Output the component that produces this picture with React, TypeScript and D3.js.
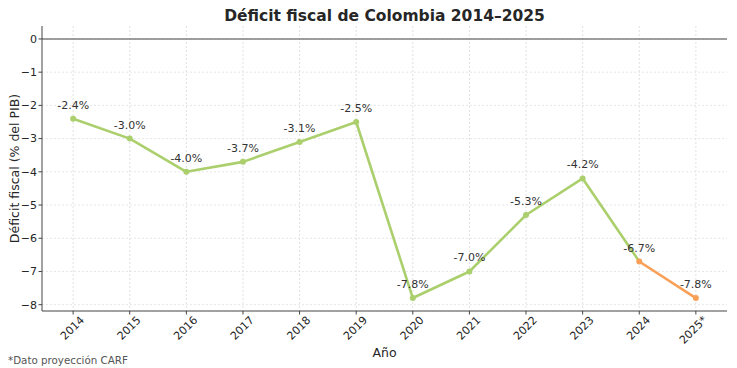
import * as d3 from "d3";

const years = ["2014", "2015", "2016", "2017", "2018", "2019", "2020", "2021", "2022", "2023", "2024", "2025*"];
const deficit = [-2.4, -3.0, -4.0, -3.7, -3.1, -2.5, -7.8, -7.0, -5.3, -4.2, -6.7, -7.8];
const yTicks = [0, -1, -2, -3, -4, -5, -6, -7, -8];

const WIDTH = 737;
const HEIGHT = 368;
const MARGIN = { left: 42, right: 10, top: 26, bottom: 57 };
const GREEN = "#aacf6c";
const ORANGE = "#f8a057";
const FONT = "DejaVu Sans, sans-serif";

export default function App() {
	const innerW = WIDTH - MARGIN.left - MARGIN.right;
	const innerH = HEIGHT - MARGIN.top - MARGIN.bottom;

	const x = d3.scaleLinear().domain([-0.55, years.length - 1 + 0.55]).range([0, innerW]);
	const y = d3.scaleLinear().domain([-8.19, 0.39]).range([innerH, 0]);

	const pts = deficit.map((v, i) => ({ i, v }));
	const line = d3
		.line<{ i: number; v: number }>()
		.x((d) => x(d.i))
		.y((d) => y(d.v));

	const actual = pts.slice(0, years.length - 1);
	const projected = pts.slice(years.length - 2);

	// matplotlib style unicode minus on the axis
	const fmt = (v: number) => (v < 0 ? "\u2212" + Math.abs(v) : String(v));

	return (
		<svg width={WIDTH} height={HEIGHT} style={{ position: "absolute", left: 0, top: 0 }} fontFamily={FONT}>
			<rect width={WIDTH} height={HEIGHT} fill="#fff" />
			<text x={MARGIN.left + innerW / 2} y={21} textAnchor="middle" fontSize={15.5} fontWeight="bold" fill="#262626">
				Déficit fiscal de Colombia 2014–2025
			</text>
			<g transform={`translate(${MARGIN.left},${MARGIN.top})`}>
				{/* grid */}
				{years.map((_, i) => (
					<line key={"gx" + i} x1={x(i)} x2={x(i)} y1={0} y2={innerH} stroke="#d8d8d8" strokeWidth={0.8} strokeDasharray="2,2" />
				))}
				{yTicks.map((t) => (
					<line key={"gy" + t} x1={0} x2={innerW} y1={y(t)} y2={y(t)} stroke="#e0e0e0" strokeWidth={0.8} strokeDasharray="2,2" />
				))}
				<line x1={0} x2={innerW} y1={y(0)} y2={y(0)} stroke="#7f7f7f" strokeWidth={1.5} />

				{/* axes */}
				<line x1={0} x2={0} y1={0} y2={innerH} stroke="#444" strokeWidth={1} />
				<line x1={0} x2={innerW} y1={innerH} y2={innerH} stroke="#444" strokeWidth={1} />
				{yTicks.map((t) => (
					<g key={"ty" + t} transform={`translate(0,${y(t)})`}>
						<line x1={-3.5} x2={0} stroke="#444" />
						<text x={-5} dy="0.35em" textAnchor="end" fontSize={11} fill="#262626">
							{fmt(t)}
						</text>
					</g>
				))}
				{years.map((yr, i) => (
					<g key={"tx" + i} transform={`translate(${x(i)},${innerH})`}>
						<line y1={0} y2={3.5} stroke="#444" />
						<text transform="translate(9,7) rotate(-45)" textAnchor="end" dy="0.35em" fontSize={11} fill="#262626">
							{yr}
						</text>
					</g>
				))}

				{/* lines */}
				<path d={line(actual) ?? ""} fill="none" stroke={GREEN} strokeWidth={2.6} strokeLinejoin="round" />
				<path d={line(projected) ?? ""} fill="none" stroke={ORANGE} strokeWidth={2.6} strokeLinejoin="round" />
				{pts.map((d) => (
					<circle key={"c" + d.i} cx={x(d.i)} cy={y(d.v)} r={3} fill={d.i >= years.length - 2 ? ORANGE : GREEN} />
				))}
				{pts.map((d) => (
					<text key={"l" + d.i} x={x(d.i)} y={y(d.v) - 10} textAnchor="middle" fontSize={11} fill="#333">
						{d.v.toFixed(1)}%
					</text>
				))}
			</g>
			<text x={MARGIN.left + innerW / 2} y={357} textAnchor="middle" fontSize={12.5} fill="#262626">
				Año
			</text>
			<text transform={`translate(19,${MARGIN.top + innerH / 2}) rotate(-90)`} textAnchor="middle" fontSize={12.5} fill="#262626">
				Déficit fiscal (% del PIB)
			</text>
			<text x={8} y={364} fontSize={10.3} fill="#555">
				*Dato proyección CARF
			</text>
		</svg>
	);
}
